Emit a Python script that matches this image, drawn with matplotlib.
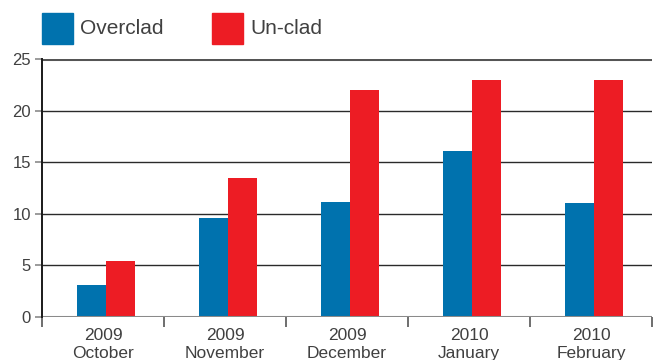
import numpy as np
import matplotlib.pyplot as plt
from matplotlib.patches import Rectangle

plt.rcParams['font.family'] = ['Liberation Sans', 'DejaVu Sans']

years = ['2009', '2009', '2009', '2010', '2010']
months = ['October', 'November', 'December', 'January', 'February']
overclad = [3.1, 9.6, 11.1, 16.1, 11.0]
unclad = [5.4, 13.5, 22.0, 23.0, 23.0]
series_names = ['Overclad', 'Un-clad']
colors = ['#0072ae', '#ed1c24']
text_col = '#404040'

fig = plt.figure(figsize=(6.54, 3.6), dpi=100)
ax = fig.add_axes([42/654, 1 - 317/360, 610/654, (317 - 59)/360])

x = np.arange(len(months))
w = 0.238
shift = 0.025
ax.bar(x + shift - w/2, overclad, w, color=colors[0], zorder=3)
ax.bar(x + shift + w/2, unclad, w, color=colors[1], zorder=3)

ax.set_xlim(-0.5, len(months) - 0.5)
ax.set_ylim(0, 25)

# horizontal grid lines
for yv in [5, 10, 15, 20]:
    ax.axhline(yv, color='#2a2a2a', lw=1.0, zorder=1)
ax.axhline(25, color='#555555', lw=2.2, zorder=1)
ax.axhline(0, color='#8a8a8a', lw=2.2, zorder=4)

for s in ['top', 'right', 'bottom']:
    ax.spines[s].set_visible(False)
ax.spines['left'].set_color('#1a1a1a')
ax.spines['left'].set_linewidth(1.4)
ax.spines['left'].set_zorder(5)

ax.set_yticks([0, 5, 10, 15, 20, 25])
ax.tick_params(axis='y', length=5, width=1.2, color='#8a8a8a',
               labelsize=12, labelcolor=text_col, pad=3)

# category separators as major ticks, labels at centres
ax.set_xticks(np.arange(-0.5, len(months), 1.0))
ax.set_xticklabels([])
ax.set_xticks(x, minor=True)
ax.set_xticklabels([f'{y}\n{m}' for y, m in zip(years, months)], minor=True)
ax.tick_params(axis='x', which='major', length=7, width=1.2, color='#555555', direction='out')
ax.tick_params(axis='x', which='minor', length=0, labelsize=12.5, labelcolor=text_col, pad=8)
for lab in ax.get_xticklabels(minor=True):
    lab.set_linespacing(1.25)

# legend
legend_x = [42, 212]
for lx, name, col in zip(legend_x, series_names, colors):
    fig.add_artist(Rectangle((lx/654, 1 - 44/360), 31/654, 31/360,
                             transform=fig.transFigure, color=col))
    fig.text((lx + 38)/654, 1 - 28.5/360, name, fontsize=15, color=text_col, va='center')

fig.savefig('out.png', dpi=100)
